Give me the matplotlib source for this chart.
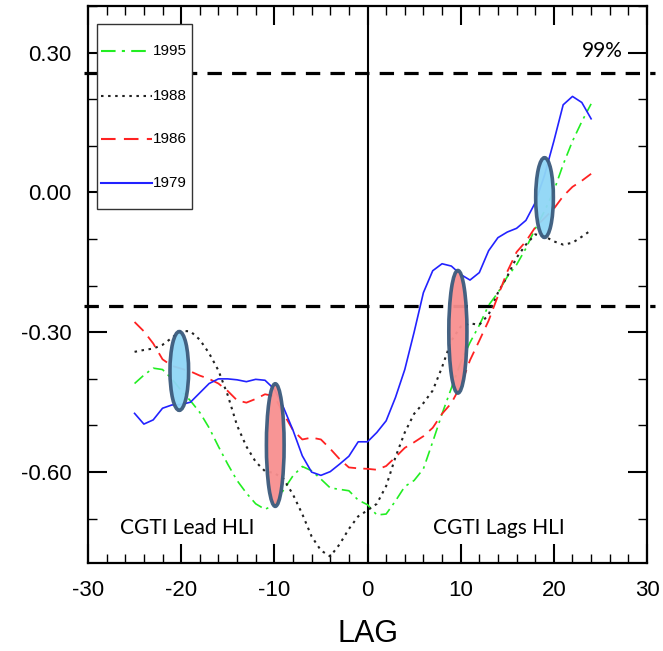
import numpy as np
import matplotlib
matplotlib.use("Agg")
import matplotlib.pyplot as plt
from matplotlib.patches import Ellipse, Rectangle
from matplotlib.lines import Line2D
from matplotlib.ticker import MultipleLocator

plt.rcParams["axes.unicode_minus"] = False

lags = list(range(-25, 25))

r1979 = [-0.474, -0.497, -0.488, -0.463, -0.456, -0.455, -0.450, -0.430, -0.410, -0.400,
         -0.400, -0.402, -0.406, -0.401, -0.403, -0.422, -0.462, -0.510, -0.565, -0.600,
         -0.607, -0.599, -0.583, -0.566, -0.535, -0.535, -0.515, -0.490, -0.440, -0.380,
         -0.300, -0.215, -0.168, -0.153, -0.158, -0.176, -0.188, -0.172, -0.125, -0.097,
         -0.085, -0.077, -0.060, -0.022, 0.037, 0.110, 0.188, 0.206, 0.193, 0.158]
r1986 = [-0.278, -0.298, -0.324, -0.358, -0.372, -0.378, -0.384, -0.393, -0.400, -0.410,
         -0.426, -0.446, -0.451, -0.443, -0.433, -0.437, -0.475, -0.510, -0.530, -0.526,
         -0.530, -0.550, -0.572, -0.590, -0.592, -0.593, -0.595, -0.587, -0.568, -0.548,
         -0.536, -0.523, -0.505, -0.475, -0.452, -0.415, -0.360, -0.318, -0.275, -0.222,
         -0.170, -0.128, -0.105, -0.075, -0.055, -0.035, -0.008, 0.012, 0.025, 0.040]
r1988 = [-0.342, -0.338, -0.335, -0.327, -0.312, -0.297, -0.298, -0.316, -0.345, -0.382,
         -0.435, -0.500, -0.545, -0.578, -0.598, -0.602, -0.615, -0.648, -0.690, -0.738,
         -0.768, -0.781, -0.755, -0.722, -0.695, -0.682, -0.668, -0.630, -0.568, -0.515,
         -0.475, -0.452, -0.425, -0.375, -0.318, -0.288, -0.281, -0.284, -0.262, -0.215,
         -0.180, -0.140, -0.112, -0.090, -0.094, -0.105, -0.112, -0.108, -0.095, -0.081]
r1995 = [-0.410, -0.392, -0.377, -0.380, -0.400, -0.425, -0.447, -0.472, -0.505, -0.545,
         -0.583, -0.618, -0.645, -0.668, -0.680, -0.670, -0.638, -0.608, -0.588, -0.597,
         -0.615, -0.634, -0.637, -0.640, -0.660, -0.670, -0.692, -0.690, -0.662, -0.631,
         -0.618, -0.593, -0.535, -0.475, -0.420, -0.365, -0.322, -0.285, -0.242, -0.215,
         -0.181, -0.155, -0.120, -0.078, -0.040, 0.003, 0.060, 0.110, 0.152, 0.190]

sig_levels = [0.257, -0.243]

# highlighted regions
ell_x = [-20.2, -9.9, 9.7, 19.0]
ell_y = [-0.383, -0.542, -0.299, -0.011]
ell_w = [2.0, 1.9, 1.95, 1.9]
ell_h = [0.169, 0.263, 0.263, 0.171]
ell_kind = ["blue", "red", "red", "blue"]

fig = plt.figure(figsize=(6.63, 6.51), dpi=100)
ax = fig.add_axes([0.1327, 0.1352, 0.8432, 0.8556])

ax.plot(lags, r1995, color="#22ee22", lw=1.2, ls=(0, (7, 3, 1.5, 3)), zorder=3)
ax.plot(lags, r1988, color="#222222", lw=1.5, ls=(0, (1.2, 2.2)), zorder=3)
ax.plot(lags, r1986, color="#ff2222", lw=1.3, ls=(0, (7, 4)), zorder=3)
ax.plot(lags, r1979, color="#2222ff", lw=1.2, zorder=3)

ax.axvline(0, color="black", lw=1.5, zorder=2)
for s in sig_levels:
    ax.plot([-30.4, 30.9], [s, s], color="black", lw=2.3, ls=(0, (4.5, 3.2)),
            clip_on=False, zorder=2)

fills = {"blue": "#8fd6f6", "red": "#f88f8f"}
for x, y, w, h, k in zip(ell_x, ell_y, ell_w, ell_h, ell_kind):
    ax.add_patch(Ellipse((x, y), w, h, facecolor=fills[k], edgecolor="#3b5b7d",
                         lw=2.6, alpha=0.95, zorder=4))

ax.set_xlim(-30, 30)
ax.set_ylim(-0.795, 0.40)
ax.xaxis.set_major_locator(MultipleLocator(10))
ax.xaxis.set_minor_locator(MultipleLocator(2))
ax.set_yticks([-0.6, -0.3, 0.0, 0.3])
ax.set_yticklabels(["-0.60", "-0.30", "0.00", "0.30"])
ax.yaxis.set_minor_locator(MultipleLocator(0.1))
ax.tick_params(which="both", direction="in", top=True, right=True)
ax.tick_params(which="major", length=13.5, width=1.5, labelsize=16, pad=12)
ax.tick_params(which="minor", length=6.5, width=1.0)
for lab in ax.get_xticklabels() + ax.get_yticklabels():
    lab.set_family("Liberation Sans")
for sp in ax.spines.values():
    sp.set_linewidth(1.6)
ax.set_xlabel("LAG", fontsize=22, family="Liberation Sans", labelpad=13)

# legend box
ax.add_patch(Rectangle((0.0161, 0.6355), 0.1700, 0.3322, transform=ax.transAxes,
                       facecolor="white", edgecolor="#333333", lw=1.0, zorder=10))
leg = [("1995", "#22ee22", (0, (7, 3, 1.5, 3)), 0.919),
       ("1988", "#222222", (0, (1.2, 2.2)), 0.838),
       ("1986", "#ff2222", (0, (7, 4)), 0.761),
       ("1979", "#2222ff", "-", 0.682)]
for name, c, ls, yy in leg:
    ax.add_line(Line2D([0.0233, 0.1145], [yy, yy], transform=ax.transAxes, color=c,
                       lw=1.5, ls=ls, zorder=11))
    ax.text(0.1163, yy, name, transform=ax.transAxes, fontsize=11, va="center",
            ha="left", family="Liberation Sans", zorder=11)

ax.text(0.957, 0.92, "99%", transform=ax.transAxes, fontsize=15, family="Lato",
        ha="right", va="center")
ax.text(0.058, 0.063, "CGTI Lead HLI", transform=ax.transAxes, fontsize=15,
        family="Lato", ha="left", va="center", zorder=5)
ax.text(0.617, 0.063, "CGTI Lags HLI", transform=ax.transAxes, fontsize=15,
        family="Lato", ha="left", va="center", zorder=5)

fig.savefig("out.png", dpi=100)
